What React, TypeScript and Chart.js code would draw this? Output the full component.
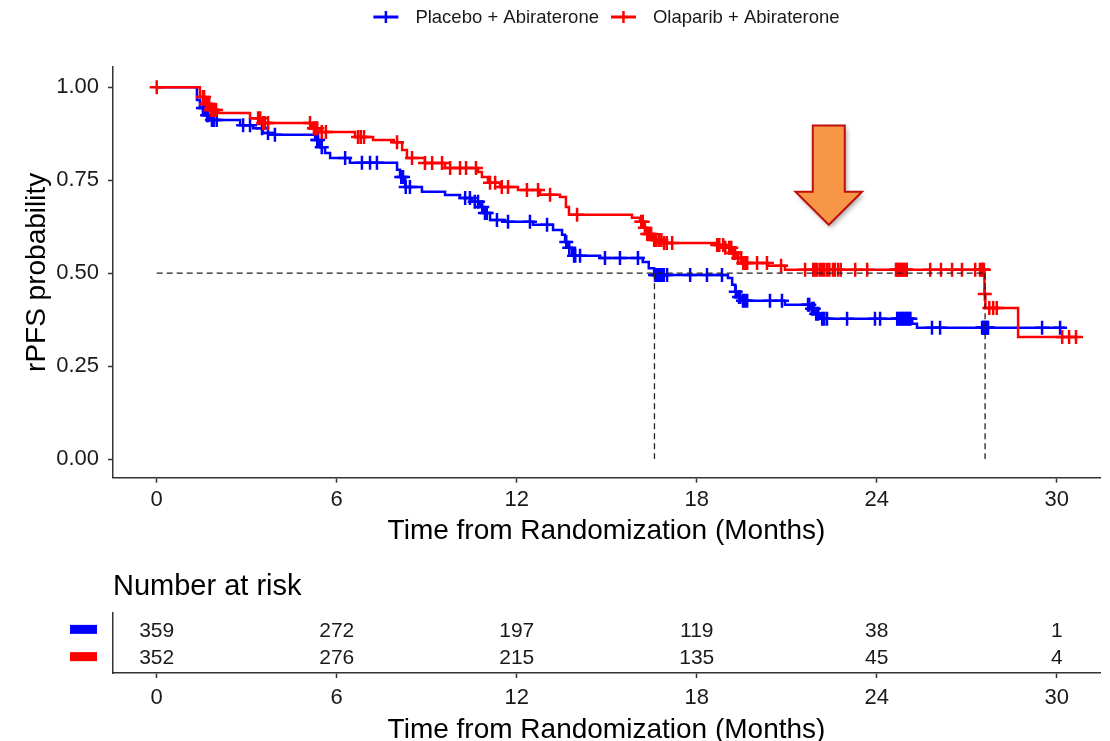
import React, { useEffect, useRef } from "react";
import { Chart, registerables } from "chart.js";

Chart.register(...registerables);

const FONT = "'Liberation Sans', Arial, Helvetica, sans-serif";

// Series labels and colours
const seriesNames = ["Placebo + Abiraterone", "Olaparib + Abiraterone"];
const seriesColors = ["#0000FF", "#FF0000"];

// Kaplan–Meier steps: event time (months) and survival just after it
const placeboTimes = [0, 1.34, 1.44, 1.61, 1.78, 2.78, 3.21, 3.54, 3.84, 5.28, 5.44, 5.61, 5.78, 6.44, 8.01, 8.11, 8.28, 8.84, 9.61, 10.11, 10.51, 10.78, 10.91, 11.11, 11.61, 12.54, 13.21, 13.51, 13.61, 13.68, 13.84, 14.78, 16.2, 16.4, 16.58, 19.04, 19.18, 19.28, 19.38, 19.51, 20.94, 21.78, 21.91, 22.11, 25.18, 25.34, 30.27];
const placeboSurv = [1, 0.966, 0.944, 0.925, 0.912, 0.898, 0.89, 0.877, 0.872, 0.858, 0.839, 0.823, 0.81, 0.797, 0.778, 0.759, 0.732, 0.719, 0.71, 0.702, 0.692, 0.678, 0.662, 0.643, 0.638, 0.63, 0.616, 0.603, 0.584, 0.568, 0.547, 0.541, 0.53, 0.513, 0.495, 0.487, 0.469, 0.45, 0.436, 0.426, 0.415, 0.404, 0.391, 0.377, 0.364, 0.353, 0.353];

const olaparibTimes = [0, 1.44, 1.61, 1.78, 2.04, 3.11, 3.51, 5.18, 5.44, 6.61, 7.21, 7.9, 8.18, 8.34, 8.94, 9.61, 10.71, 10.84, 11.04, 11.44, 12.04, 12.78, 13.44, 13.64, 13.74, 15.84, 16.11, 16.21, 16.34, 16.51, 16.84, 18.61, 18.94, 19.18, 19.34, 19.51, 20.38, 20.94, 27.59, 27.62, 28.71, 30.7];
const olaparibSurv = [1, 0.974, 0.955, 0.939, 0.931, 0.917, 0.904, 0.89, 0.88, 0.866, 0.858, 0.852, 0.831, 0.81, 0.796, 0.783, 0.772, 0.759, 0.743, 0.732, 0.724, 0.711, 0.705, 0.678, 0.657, 0.649, 0.638, 0.622, 0.605, 0.589, 0.581, 0.576, 0.568, 0.554, 0.541, 0.527, 0.52, 0.509, 0.444, 0.406, 0.328, 0.328];

// Censoring times (months)
const placeboCensor = [1.54, 1.6, 1.68, 1.72, 1.84, 1.9, 2.0, 2.88, 3.11, 3.51, 3.71, 3.94, 5.35, 5.38, 5.5, 6.28, 6.84, 7.11, 7.34, 8.15, 8.21, 8.3, 8.44, 10.28, 10.44, 10.6, 10.71, 10.85, 10.94, 11.0, 11.34, 11.71, 12.44, 13.01, 13.65, 13.75, 13.91, 13.95, 14.11, 14.94, 15.44, 16.04, 16.61, 16.65, 16.7, 16.74, 16.8, 16.84, 16.9, 17.01, 17.78, 18.34, 18.84, 19.3, 19.41, 19.45, 19.54, 19.6, 19.68, 20.44, 20.84, 21.71, 21.75, 21.84, 21.9, 21.98, 22.05, 22.18, 22.25, 22.34, 23.01, 23.94, 24.11, 24.68, 24.72, 24.78, 24.82, 24.88, 24.92, 24.98, 25.02, 25.08, 25.12, 25.84, 26.11, 27.51, 27.55, 27.58, 27.61, 27.65, 27.68, 27.71, 29.51, 30.11];
const olaparibCensor = [0, 1.54, 1.58, 1.64, 1.7, 1.75, 1.81, 1.86, 1.91, 1.98, 3.38, 3.45, 3.55, 3.6, 3.71, 5.11, 5.24, 5.3, 5.35, 5.5, 5.64, 6.71, 6.8, 6.91, 8.01, 8.51, 8.94, 9.18, 9.51, 9.78, 10.11, 10.31, 10.64, 11.11, 11.28, 11.5, 11.71, 12.34, 12.71, 13.11, 14.01, 16.15, 16.2, 16.27, 16.35, 16.41, 16.48, 16.58, 16.65, 16.74, 16.82, 16.91, 17.0, 17.18, 18.68, 18.75, 18.88, 18.95, 19.08, 19.15, 19.22, 19.28, 19.38, 19.48, 19.55, 19.62, 19.68, 20.01, 20.34, 20.81, 21.61, 21.88, 21.95, 22.01, 22.1, 22.18, 22.25, 22.34, 22.42, 22.54, 22.6, 22.71, 22.8, 23.28, 23.68, 24.64, 24.67, 24.71, 24.74, 24.78, 24.84, 24.88, 24.93, 24.98, 25.0, 25.78, 26.14, 26.51, 26.84, 27.28, 27.44, 27.5, 27.54, 27.57, 27.6, 27.75, 27.88, 28.0, 30.18, 30.41, 30.64];

// Median survival times (months) for the reference lines
const medianPlacebo = 16.59;
const medianOlaparib = 27.61;
const medianLevel = 0.5;

// Axes
const xTicks = [0, 6, 12, 18, 24, 30];
const yTicks = [0, 0.25, 0.5, 0.75, 1];
const xMin = -1.457;
const xMax = 31.44;
const yMin = -0.0503;
const yMax = 1.0546;

// Number at risk at each x tick
const riskPlacebo = [359, 272, 197, 119, 38, 1];
const riskOlaparib = [352, 276, 215, 135, 45, 4];

// Highlight arrow, in data units: centre time, shaft/head half-widths, top, shaft end, tip
const arrowSpec = { t: 22.4, shaftHalf: 0.533, headHalf: 1.11, top: 0.897, shaftEnd: 0.719, tip: 0.63 };

const AXIS = "#333333";
const TEXT = "#1a1a1a";

function stepValue(times: number[], surv: number[], t: number): number {
  let v = surv[0];
  for (let i = 0; i < times.length; i++) {
    if (times[i] <= t) v = surv[i];
    else break;
  }
  return v;
}

const curve = (times: number[], surv: number[]) => times.map((t, i) => ({ x: t, y: surv[i] }));
const censorPoints = (cens: number[], times: number[], surv: number[]) =>
  cens.map((t) => ({ x: t, y: stepValue(times, surv, t) }));

function fixedTicks(values: number[]) {
  return (scale: any) => {
    scale.ticks = values.map((v) => ({ value: v }));
  };
}

const kmOverlay = {
  id: "kmOverlay",
  afterDatasetsDraw(chart: any) {
    const { ctx, scales } = chart;
    const xs = scales.x;
    const ys = scales.y;
    // median reference lines
    ctx.save();
    ctx.strokeStyle = "#222";
    ctx.lineWidth = 1.3;
    ctx.setLineDash([6, 4]);
    ctx.beginPath();
    ctx.moveTo(xs.getPixelForValue(0), ys.getPixelForValue(medianLevel));
    ctx.lineTo(xs.getPixelForValue(medianOlaparib), ys.getPixelForValue(medianLevel));
    for (const m of [medianPlacebo, medianOlaparib]) {
      ctx.moveTo(xs.getPixelForValue(m), ys.getPixelForValue(medianLevel));
      ctx.lineTo(xs.getPixelForValue(m), ys.getPixelForValue(0));
    }
    ctx.stroke();
    ctx.restore();

    // downward arrow
    const a = arrowSpec;
    const px = (t: number) => xs.getPixelForValue(t);
    const py = (v: number) => ys.getPixelForValue(v);
    ctx.save();
    ctx.beginPath();
    ctx.moveTo(px(a.t - a.shaftHalf), py(a.top));
    ctx.lineTo(px(a.t + a.shaftHalf), py(a.top));
    ctx.lineTo(px(a.t + a.shaftHalf), py(a.shaftEnd));
    ctx.lineTo(px(a.t + a.headHalf), py(a.shaftEnd));
    ctx.lineTo(px(a.t), py(a.tip));
    ctx.lineTo(px(a.t - a.headHalf), py(a.shaftEnd));
    ctx.lineTo(px(a.t - a.shaftHalf), py(a.shaftEnd));
    ctx.closePath();
    ctx.shadowColor = "rgba(0,0,0,0.35)";
    ctx.shadowBlur = 5;
    ctx.shadowOffsetX = 2;
    ctx.shadowOffsetY = 3;
    ctx.fillStyle = "#F79646";
    ctx.fill();
    ctx.shadowColor = "transparent";
    ctx.lineWidth = 2;
    ctx.lineJoin = "miter";
    ctx.strokeStyle = "#C0100C";
    ctx.stroke();
    ctx.restore();
  },
  afterDraw(chart: any) {
    // legend above the panel
    const { ctx, chartArea } = chart;
    ctx.save();
    ctx.font = `18.5px ${FONT}`;
    const glyphW = 25;
    const gap = 17;
    const itemGap = 12;
    const widths = seriesNames.map((n) => ctx.measureText(n).width);
    const total = widths.reduce((s, w) => s + glyphW + gap + w, 0) + itemGap * (seriesNames.length - 1);
    let x = (chartArea.left + chartArea.right) / 2 - total / 2;
    const y = 17;
    seriesNames.forEach((name, i) => {
      ctx.strokeStyle = seriesColors[i];
      ctx.lineWidth = 3;
      ctx.beginPath();
      ctx.moveTo(x, y);
      ctx.lineTo(x + glyphW, y);
      ctx.stroke();
      ctx.lineWidth = 2.5;
      ctx.beginPath();
      ctx.moveTo(x + glyphW / 2, y - 6);
      ctx.lineTo(x + glyphW / 2, y + 6);
      ctx.stroke();
      ctx.fillStyle = TEXT;
      ctx.textAlign = "left";
      ctx.textBaseline = "middle";
      ctx.fillText(name, x + glyphW + gap, y + 1);
      x += glyphW + gap + widths[i] + itemGap;
    });
    ctx.restore();
  },
};

const riskOverlay = {
  id: "riskOverlay",
  afterDraw(chart: any) {
    const { ctx, chartArea, scales } = chart;
    const xs = scales.x;
    const ys = scales.y;
    ctx.save();
    ctx.fillStyle = "#000";
    ctx.font = `29px ${FONT}`;
    ctx.textAlign = "left";
    ctx.textBaseline = "alphabetic";
    ctx.fillText("Number at risk", chartArea.left, 35);

    const rows = [riskPlacebo, riskOlaparib];
    const rowPos = [2, 1];
    rows.forEach((vals, r) => {
      const y = ys.getPixelForValue(rowPos[r]);
      ctx.fillStyle = seriesColors[r];
      ctx.fillRect(chartArea.left - 43, y - 4.5, 27, 9);
      ctx.fillStyle = TEXT;
      ctx.font = `21px ${FONT}`;
      ctx.textAlign = "center";
      ctx.textBaseline = "middle";
      vals.forEach((v, i) => {
        ctx.fillText(String(v), xs.getPixelForValue(xTicks[i]), y + 2);
      });
    });
    ctx.restore();
  },
};

const axisBase = {
  border: { display: true, color: AXIS, width: 1.5 },
  grid: { drawOnChartArea: false, drawTicks: true, tickLength: 5, tickColor: AXIS, tickWidth: 1.5 },
};

const censorStyle = {
  type: "scatter",
  pointStyle: "cross",
  pointRadius: 7,
  pointBorderWidth: 2.5,
  showLine: false,
};

export default function App() {
  const topRef = useRef<HTMLCanvasElement>(null);
  const bottomRef = useRef<HTMLCanvasElement>(null);

  useEffect(() => {
    Chart.defaults.font.family = FONT;

    const km = new Chart(topRef.current as HTMLCanvasElement, {
      type: "line",
      data: {
        datasets: [
          {
            label: seriesNames[0],
            data: curve(placeboTimes, placeboSurv),
            borderColor: seriesColors[0],
            borderWidth: 2.5,
            stepped: "before",
            pointRadius: 0,
            fill: false,
            order: 4,
          },
          {
            ...censorStyle,
            label: seriesNames[0] + " censored",
            data: censorPoints(placeboCensor, placeboTimes, placeboSurv),
            borderColor: seriesColors[0],
            backgroundColor: seriesColors[0],
            order: 3,
          },
          {
            label: seriesNames[1],
            data: curve(olaparibTimes, olaparibSurv),
            borderColor: seriesColors[1],
            borderWidth: 2.5,
            stepped: "before",
            pointRadius: 0,
            fill: false,
            order: 2,
          },
          {
            ...censorStyle,
            label: seriesNames[1] + " censored",
            data: censorPoints(olaparibCensor, olaparibTimes, olaparibSurv),
            borderColor: seriesColors[1],
            backgroundColor: seriesColors[1],
            order: 1,
          },
        ] as any,
      },
      options: {
        responsive: false,
        maintainAspectRatio: false,
        animation: false,
        layout: { padding: { top: 67, right: 10, left: 0, bottom: 0 } },
        plugins: { legend: { display: false }, tooltip: { enabled: false } },
        events: [],
        scales: {
          x: {
            type: "linear",
            min: xMin,
            max: xMax,
            afterBuildTicks: fixedTicks(xTicks),
            afterFit: (s: any) => {
              s.height = 82.3;
            },
            ...axisBase,
            ticks: { font: { size: 22 }, color: TEXT, padding: 4, maxRotation: 0, autoSkip: false },
            title: {
              display: true,
              text: "Time from Randomization (Months)",
              font: { size: 28 },
              color: "#000",
              padding: { top: 0, bottom: 11.5 },
            },
          },
          y: {
            type: "linear",
            min: yMin,
            max: yMax,
            afterBuildTicks: fixedTicks(yTicks),
            afterFit: (s: any) => {
              s.width = 113;
            },
            ...axisBase,
            ticks: {
              font: { size: 22 },
              color: TEXT,
              padding: 9,
              callback: (v: any) => Number(v).toFixed(2),
            },
            title: {
              display: true,
              text: "rPFS probability",
              font: { size: 28 },
              color: "#000",
              padding: { top: 20.7, bottom: 0 },
            },
          },
        },
      } as any,
      plugins: [kmOverlay],
    });

    const risk = new Chart(bottomRef.current as HTMLCanvasElement, {
      type: "scatter",
      data: {
        datasets: [
          {
            label: "rows",
            data: [
              { x: xTicks[0], y: 2 },
              { x: xTicks[0], y: 1 },
            ],
            pointRadius: 0,
          },
        ],
      },
      options: {
        responsive: false,
        maintainAspectRatio: false,
        animation: false,
        events: [],
        layout: { padding: { top: 53, right: 10, left: 0, bottom: 0 } },
        plugins: { legend: { display: false }, tooltip: { enabled: false } },
        scales: {
          x: {
            type: "linear",
            min: xMin,
            max: xMax,
            afterBuildTicks: fixedTicks(xTicks),
            afterFit: (s: any) => {
              s.height = 87;
            },
            ...axisBase,
            ticks: { font: { size: 22 }, color: TEXT, padding: 6.8, maxRotation: 0, autoSkip: false },
            title: {
              display: true,
              text: "Time from Randomization (Months)",
              font: { size: 28 },
              color: "#000",
              padding: { top: 0, bottom: 13.2 },
            },
          },
          y: {
            type: "linear",
            min: 0.4,
            max: 2.6,
            afterFit: (s: any) => {
              s.width = 113;
            },
            border: { display: true, color: AXIS, width: 1.5 },
            grid: { display: false },
            ticks: { display: false },
          },
        },
      } as any,
      plugins: [riskOverlay],
    });

    return () => {
      km.destroy();
      risk.destroy();
    };
  }, []);

  return (
    <div
      style={{
        position: "fixed",
        left: 0,
        top: 0,
        width: 1110,
        height: 741,
        background: "#ffffff",
        overflow: "hidden",
      }}
    >
      <canvas ref={topRef} width={1110} height={560} style={{ position: "absolute", left: 0, top: 0 }} />
      <canvas ref={bottomRef} width={1110} height={200} style={{ position: "absolute", left: 0, top: 560 }} />
    </div>
  );
}
